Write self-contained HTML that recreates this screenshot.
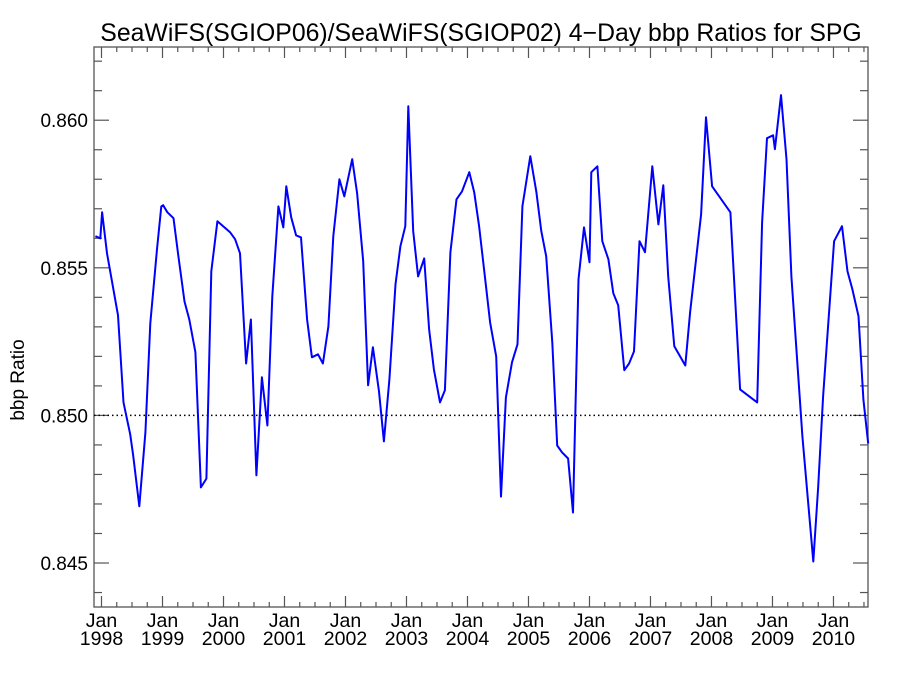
<!DOCTYPE html>
<html><head><meta charset="utf-8"><style>
body{margin:0;background:#fff}
svg text{font-family:"Liberation Sans",sans-serif;fill:#000}
</style></head><body>
<svg id="c" width="900" height="675" viewBox="0 0 900 675" xmlns="http://www.w3.org/2000/svg">
<text x="481" y="41" font-size="24.8" text-anchor="middle">SeaWiFS(SGIOP06)/SeaWiFS(SGIOP02) 4−Day bbp Ratios for SPG</text>
<text transform="translate(24,380) rotate(-90)" font-size="19" text-anchor="middle">bbp Ratio</text>
<g id="ax"></g>
</svg>
<script>
const dates=[1997.90,1997.98,1998.01,1998.09,1998.27,1998.36,1998.47,1998.52,1998.62,1998.72,1998.80,1998.91,1998.98,1999.01,1999.08,1999.18,1999.26,1999.36,1999.44,1999.54,1999.63,1999.72,1999.80,1999.90,2000.11,2000.19,2000.27,2000.37,2000.45,2000.54,2000.63,2000.72,2000.80,2000.90,2000.98,2001.03,2001.11,2001.19,2001.27,2001.37,2001.45,2001.55,2001.63,2001.72,2001.80,2001.90,2001.98,2002.11,2002.19,2002.29,2002.37,2002.45,2002.55,2002.63,2002.72,2002.82,2002.90,2002.98,2003.03,2003.11,2003.19,2003.29,2003.37,2003.45,2003.55,2003.63,2003.72,2003.82,2003.91,2004.03,2004.11,2004.19,2004.29,2004.37,2004.47,2004.55,2004.63,2004.73,2004.82,2004.90,2005.03,2005.13,2005.21,2005.29,2005.39,2005.47,2005.55,2005.65,2005.73,2005.82,2005.91,2006.00,2006.03,2006.13,2006.21,2006.31,2006.39,2006.47,2006.57,2006.65,2006.73,2006.82,2006.91,2007.03,2007.13,2007.21,2007.29,2007.39,2007.57,2007.65,2007.83,2007.91,2008.01,2008.31,2008.47,2008.75,2008.83,2008.91,2009.01,2009.04,2009.14,2009.23,2009.31,2009.49,2009.67,2009.75,2009.83,2010.01,2010.14,2010.23,2010.31,2010.41,2010.49,2010.57];
const ratios=[0.85607,0.8560,0.85688,0.85549,0.85339,0.85044,0.84936,0.84864,0.84692,0.84942,0.85312,0.85563,0.85708,0.85712,0.85688,0.85668,0.85539,0.85386,0.85325,0.85214,0.84756,0.84786,0.85488,0.85658,0.8562,0.85597,0.85549,0.85176,0.85325,0.84797,0.85129,0.84966,0.85403,0.85708,0.85637,0.85776,0.85671,0.8561,0.85603,0.85325,0.85197,0.85207,0.85176,0.85302,0.85607,0.858,0.85742,0.85868,0.85753,0.85522,0.85102,0.85231,0.85081,0.84912,0.85122,0.85444,0.85573,0.85641,0.86047,0.85624,0.85471,0.85532,0.85292,0.85156,0.85044,0.85085,0.85553,0.85732,0.85759,0.85824,0.85756,0.85641,0.85461,0.85315,0.852,0.84725,0.85061,0.8518,0.85241,0.85708,0.85878,0.85756,0.85624,0.85539,0.85247,0.84898,0.84875,0.84854,0.84671,0.85461,0.85637,0.85519,0.85824,0.85844,0.8559,0.85529,0.85414,0.85373,0.85153,0.85176,0.85217,0.8559,0.85553,0.85844,0.85647,0.8578,0.85471,0.85234,0.85169,0.85349,0.85681,0.8601,0.85776,0.85688,0.85088,0.85044,0.85654,0.85939,0.85949,0.85902,0.86085,0.85868,0.85471,0.84929,0.84505,0.84759,0.85064,0.8559,0.85641,0.85488,0.85427,0.85336,0.85054,0.84905];
const yTicks=[0.845,0.850,0.855,0.860];
const yTickLabels=["0.845","0.850","0.855","0.860"];
const xYears=[1998,1999,2000,2001,2002,2003,2004,2005,2006,2007,2008,2009,2010];
const refValue=0.850;
const L=94,R=868,T=47,B=607;
const X0=1997.877,X1=2010.566,Y0=0.84351,Y1=0.86248;
const sx=d=>L+(d-X0)/(X1-X0)*(R-L);
const sy=v=>B-(v-Y0)/(Y1-Y0)*(B-T);
const NS="http://www.w3.org/2000/svg";
const g=document.getElementById('ax');
function mk(t,a){const e=document.createElementNS(NS,t);for(const k in a)e.setAttribute(k,a[k]);g.appendChild(e);return e;}
let e=mk('rect',{x:L,y:T,width:R-L,height:B-T,fill:'none',stroke:'#555','stroke-width':1.3});


for(let i=0;i<=20;i++){const v=0.844+i*0.001;if(v<Y0||v>Y1)continue;const y=sy(v);const maj=i%5==1;const len=maj?15:8;
 e=mk('line',{x1:L,x2:L+len,y1:y,y2:y,stroke:'#555','stroke-width':1.2});
 
 
 e=mk('line',{x1:R,x2:R-len,y1:y,y2:y,stroke:'#555','stroke-width':1.2});
 
 }
yTicks.forEach((v,i)=>{e=mk('text',{x:88,y:sy(v)+7,'font-size':19,'text-anchor':'end'});e.textContent=yTickLabels[i];
 
 });
for(let yr=1998;yr<=2010;yr++){for(let q=0;q<4;q++){const d=yr+q*0.25;if(d>X1)continue;const x=sx(d);const len=q==0?11:5;
 e=mk('line',{x1:x,x2:x,y1:B,y2:B-len,stroke:'#555','stroke-width':1.2});
 
 
 e=mk('line',{x1:x,x2:x,y1:T,y2:T+len,stroke:'#555','stroke-width':1.2});
 
 }}
xYears.forEach(yr=>{const x=sx(yr);
 e=mk('text',{x:x,y:627,'font-size':19.5,'text-anchor':'middle'});e.textContent='Jan';
 
 
 e=mk('text',{x:x,y:645,'font-size':19.5,'text-anchor':'middle'});e.textContent=String(yr);
 
 });
e=mk('line',{x1:L,x2:R,y1:sy(refValue),y2:sy(refValue),stroke:'#000','stroke-width':1.5,'stroke-dasharray':'1.5,3'});


e=mk('polyline',{points:dates.map((d,i)=>sx(d).toFixed(1)+','+sy(ratios[i]).toFixed(1)).join(' '),fill:'none',stroke:'#0000ff','stroke-width':2,'stroke-linejoin':'round'});


</script>
</body></html>
